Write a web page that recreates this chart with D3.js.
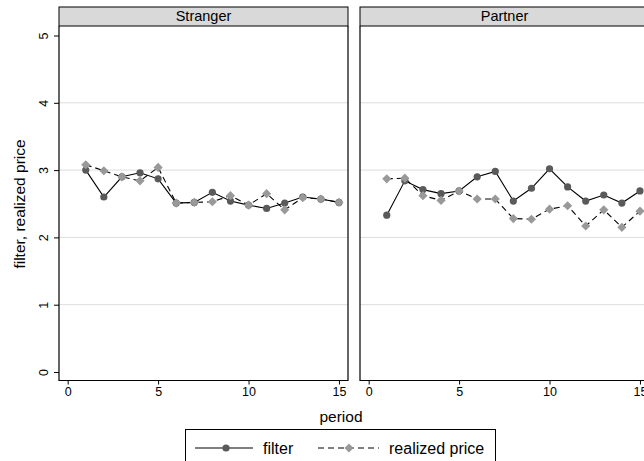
<!DOCTYPE html>
<html>
<head>
<meta charset="utf-8">
<script src="https://cdn.jsdelivr.net/npm/d3@7"></script>
<style>
  body { margin: 0; background: #fff; }
  text { font-family: "Liberation Sans", Arial, sans-serif; fill: #000; }
</style>
</head>
<body>
<div id="chart"></div>
<script>
var svgWidth = 644;
var svgHeight = 461;

// Data
var periods = [1, 2, 3, 4, 5, 6, 7, 8, 9, 10, 11, 12, 13, 14, 15];
var panelNames = ["Stranger", "Partner"];
var strangerFilter = [3.00, 2.60, 2.90, 2.96, 2.87, 2.51, 2.52, 2.67, 2.54, 2.48, 2.43, 2.51, 2.60, 2.57, 2.52];
var strangerPrice = [3.08, 2.99, 2.90, 2.84, 3.04, 2.51, 2.52, 2.53, 2.62, 2.48, 2.65, 2.41, 2.59, 2.57, 2.52];
var partnerFilter = [2.33, 2.84, 2.71, 2.65, 2.69, 2.90, 2.98, 2.54, 2.73, 3.02, 2.75, 2.54, 2.63, 2.51, 2.69];
var partnerPrice = [2.87, 2.88, 2.62, 2.55, 2.69, 2.57, 2.57, 2.28, 2.27, 2.42, 2.47, 2.17, 2.41, 2.15, 2.39];
var xTicks = [0, 5, 10, 15];
var yTicks = [0, 1, 2, 3, 4, 5];
var gridTicks = [1, 2, 3, 4];

var panels = [
  { name: panelNames[0], filter: strangerFilter, price: strangerPrice, left: 59 },
  { name: panelNames[1], filter: partnerFilter, price: partnerPrice, left: 360 }
];

var panelWidth = 289;
var stripTop = 7;
var stripHeight = 19;
var plotTop = stripTop + stripHeight;
var plotBottom = 380.5;

var filterColor = "#5a5a5a";
var priceColor = "#999999";

var svg = d3.select("#chart")
  .append("svg")
  .attr("width", svgWidth)
  .attr("height", svgHeight);

var yScale = d3.scaleLinear()
  .domain([0, 5])
  .range([372, 35.5]);

var diamond = d3.symbol().type(d3.symbolSquare).size(42);

panels.forEach(function(p, i) {
  var xScale = d3.scaleLinear()
    .domain([-0.48, 15.5])
    .range([p.left, p.left + panelWidth]);

  var g = svg.append("g");

  // gridlines
  g.selectAll("line.grid")
    .data(gridTicks)
    .enter()
    .append("line")
    .attr("x1", p.left)
    .attr("x2", p.left + panelWidth)
    .attr("y1", d => yScale(d))
    .attr("y2", d => yScale(d))
    .attr("stroke", "#dcdcdc")
    .attr("stroke-width", 1);

  // strip
  g.append("rect")
    .attr("x", p.left)
    .attr("y", stripTop)
    .attr("width", panelWidth)
    .attr("height", stripHeight)
    .attr("fill", "#d9d9d9")
    .attr("stroke", "#000")
    .attr("stroke-width", 1);

  g.append("text")
    .attr("x", p.left + panelWidth / 2)
    .attr("y", stripTop + 14)
    .attr("text-anchor", "middle")
    .attr("font-size", "14.5px")
    .text(p.name);

  // frame
  g.append("path")
    .attr("d", `M${p.left},${plotTop}V${plotBottom}H${p.left + panelWidth}V${plotTop}`)
    .attr("fill", "none")
    .attr("stroke", "#000")
    .attr("stroke-width", 1.2);

  // x axis
  var xAxis = d3.axisBottom(xScale)
    .tickValues(xTicks)
    .tickFormat(d3.format("d"))
    .tickSize(4)
    .tickPadding(3);

  var xg = g.append("g")
    .attr("transform", `translate(0, ${plotBottom})`)
    .call(xAxis);
  xg.select(".domain").remove();
  xg.selectAll("text").attr("font-size", "12.5px").attr("font-family", "Liberation Sans, Arial, sans-serif");

  // y axis only on the first panel
  if (i === 0) {
    var yAxis = d3.axisLeft(yScale)
      .tickValues(yTicks)
      .tickFormat(d3.format("d"))
      .tickSize(5)
      .tickPadding(3);
    var yg = g.append("g")
      .attr("transform", `translate(${p.left}, 0)`)
      .call(yAxis);
    yg.select(".domain").remove();
    yg.selectAll("text")
      .attr("font-size", "12.5px")
      .attr("font-family", "Liberation Sans, Arial, sans-serif")
      .attr("text-anchor", "middle")
      .attr("transform", "rotate(-90)")
      .attr("x", 0)
      .attr("dy", "0")
      .attr("y", -11);
  }

  var line = d3.line()
    .x((d, j) => xScale(periods[j]))
    .y(d => yScale(d));

  // filter series
  g.append("path")
    .datum(p.filter)
    .attr("d", line)
    .attr("fill", "none")
    .attr("stroke", "#000")
    .attr("stroke-width", 1.1);

  // realized price series
  g.append("path")
    .datum(p.price)
    .attr("d", line)
    .attr("fill", "none")
    .attr("stroke", "#000")
    .attr("stroke-width", 1.1)
    .attr("stroke-dasharray", "6,4");

  g.selectAll("circle.filter")
    .data(p.filter)
    .enter()
    .append("circle")
    .attr("cx", (d, j) => xScale(periods[j]))
    .attr("cy", d => yScale(d))
    .attr("r", 3.6)
    .attr("fill", filterColor);

  g.selectAll("path.price")
    .data(p.price)
    .enter()
    .append("path")
    .attr("d", diamond)
    .attr("transform", (d, j) => `translate(${xScale(periods[j])}, ${yScale(d)}) rotate(45)`)
    .attr("fill", priceColor);
});

// axis titles
svg.append("text")
  .attr("x", 341)
  .attr("y", 421.5)
  .attr("text-anchor", "middle")
  .attr("font-size", "15.5px")
  .text("period");

svg.append("text")
  .attr("transform", "translate(25, 204) rotate(-90)")
  .attr("text-anchor", "middle")
  .attr("font-size", "15.5px")
  .text("filter, realized price");

// legend
var legend = svg.append("g");
legend.append("rect")
  .attr("x", 185.5)
  .attr("y", 429.5)
  .attr("width", 310)
  .attr("height", 34)
  .attr("fill", "#fff")
  .attr("stroke", "#000")
  .attr("stroke-width", 1);

legend.append("line")
  .attr("x1", 195).attr("x2", 253)
  .attr("y1", 448).attr("y2", 448)
  .attr("stroke", "#000").attr("stroke-width", 1.1);
legend.append("circle")
  .attr("cx", 226).attr("cy", 448).attr("r", 3.6)
  .attr("fill", filterColor);
legend.append("text")
  .attr("x", 263).attr("y", 453.5)
  .attr("font-size", "16px")
  .text("filter");

legend.append("line")
  .attr("x1", 318).attr("x2", 379)
  .attr("y1", 448).attr("y2", 448)
  .attr("stroke", "#000").attr("stroke-width", 1.1)
  .attr("stroke-dasharray", "6,4");
legend.append("path")
  .attr("d", diamond)
  .attr("transform", "translate(349, 448) rotate(45)")
  .attr("fill", priceColor);
legend.append("text")
  .attr("x", 389).attr("y", 453.5)
  .attr("font-size", "16px")
  .text("realized price");
</script>
</body>
</html>
